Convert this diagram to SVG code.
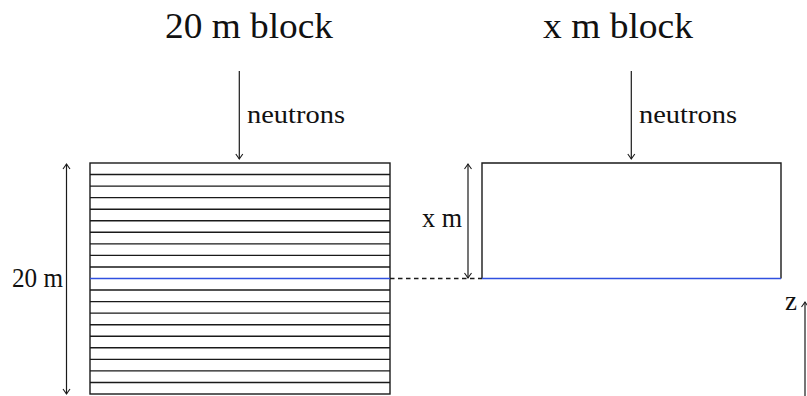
<svg xmlns="http://www.w3.org/2000/svg" width="807" height="396" viewBox="0 0 807 396">
<defs>
<style>
.ln{stroke:#1a1a1a;stroke-width:1.4;fill:none}
.ar{stroke:#1a1a1a;stroke-width:1.2;fill:none}
.blue{stroke:#3050e0;stroke-width:1.3;fill:none}
.t{font-family:"Liberation Serif","DejaVu Serif",serif;fill:#111}
</style>
<marker id="tip" viewBox="-6 -5 8 10" markerWidth="8" markerHeight="10" refX="0" refY="0" orient="auto-start-reverse" markerUnits="userSpaceOnUse">
<path d="M-5,-3.5 Q-1.5,-1 0,0 Q-1.5,1 -5,3.5" stroke="#1a1a1a" stroke-width="1.1" fill="none"/>
</marker>
</defs>
<g id="title-left"><text class="t" x="249" y="38" font-size="36" text-anchor="middle" textLength="168" lengthAdjust="spacingAndGlyphs">20 m block</text></g>
<g id="title-right"><text class="t" x="618" y="38" font-size="36" text-anchor="middle" textLength="150" lengthAdjust="spacingAndGlyphs">x m block</text></g>
<g id="block-20">
<rect class="ln" x="90" y="163" width="300" height="231"/>
<path class="ln" d="M90,174.55H390M90,186.1H390M90,197.65H390M90,209.2H390M90,220.75H390M90,232.3H390M90,243.85H390M90,255.4H390M90,266.95H390M90,290.05H390M90,301.6H390M90,313.15H390M90,324.7H390M90,336.25H390M90,347.8H390M90,359.35H390M90,370.9H390M90,382.45H390"/>
<line class="blue" x1="90" y1="278.5" x2="390" y2="278.5"/>
</g>
<g id="block-x">
<path class="ln" d="M482,278.5V163H781V278.5"/>
<line class="blue" x1="482" y1="278.5" x2="781" y2="278.5"/>
</g>
<g id="labels">
<text class="t" x="37.5" y="287" font-size="27" text-anchor="middle" textLength="51" lengthAdjust="spacingAndGlyphs">20 m</text>
<text class="t" x="442" y="227" font-size="27" text-anchor="middle" textLength="40" lengthAdjust="spacingAndGlyphs">x m</text>
<text class="t" x="247" y="123" font-size="25" textLength="98" lengthAdjust="spacingAndGlyphs">neutrons</text>
<text class="t" x="639" y="123" font-size="25" textLength="98" lengthAdjust="spacingAndGlyphs">neutrons</text>
<text class="t" x="791" y="310" font-size="27" text-anchor="middle">z</text>
</g>
<g id="connectors">
<line class="ar" x1="239.3" y1="71" x2="239.3" y2="159" marker-end="url(#tip)"/>
<line class="ar" x1="631.3" y1="71" x2="631.3" y2="159" marker-end="url(#tip)"/>
<line class="ar" x1="66.5" y1="164" x2="66.5" y2="394" marker-start="url(#tip)" marker-end="url(#tip)"/>
<line class="ar" x1="468" y1="164" x2="468" y2="278" marker-start="url(#tip)" marker-end="url(#tip)"/>
<line class="ar" x1="805" y1="396" x2="805" y2="302" marker-end="url(#tip)"/>
<line class="ln" x1="390" y1="278.5" x2="482" y2="278.5" stroke-dasharray="4.5 3.5"/>
</g>
</svg>
